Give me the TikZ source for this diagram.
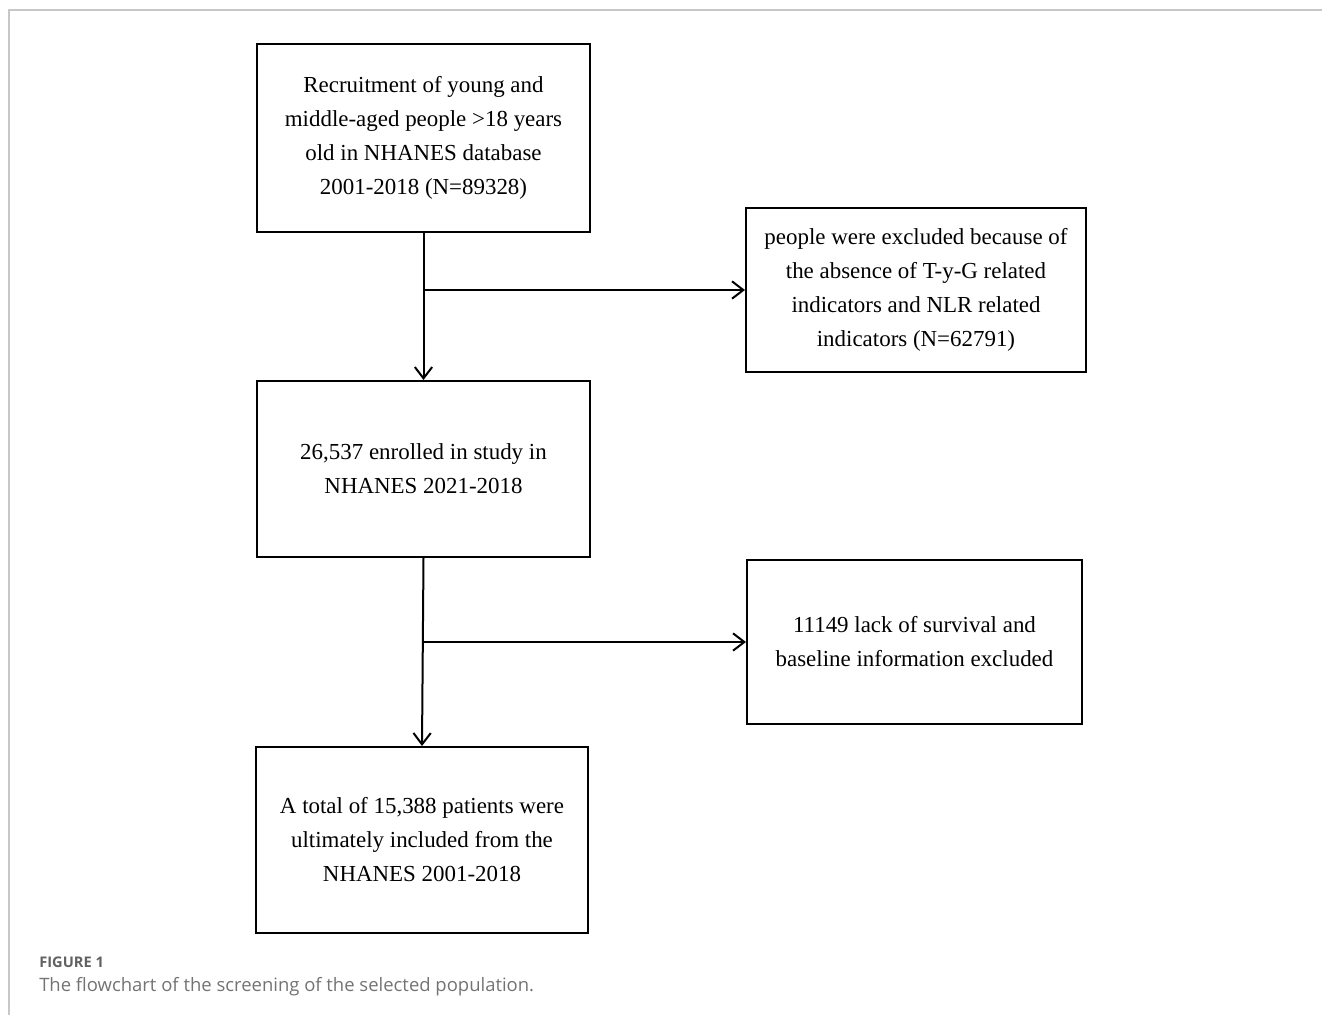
\documentclass[tikz,border=0pt]{standalone}
\usepackage{fontspec}
\setmainfont{Liberation Serif}
\newfontfamily\capfont{Open Sans}
\usetikzlibrary{arrows.meta}
\begin{document}
\begin{tikzpicture}[x=0.75pt,y=-0.75pt,
  flowbox/.style={draw=black,line width=1.5pt,inner sep=0pt,align=center,
    font=\fontsize{17.2pt}{25.5pt}\selectfont},
  flowarrow/.style={line width=1.5pt,-{Straight Barb[length=8.5pt,width=13pt,line width=1.5pt]}}]
\useasboundingbox (0,0) rectangle (1322,1015);
\draw[color=black!22,line width=1.5pt] (9,1015) -- (9,10) -- (1322,10);
\node[flowbox,minimum width=333*0.75pt,minimum height=188*0.75pt] (b1) at (423.5,138)
  {Recruitment of young and\\middle-aged people >18 years\\old in NHANES database\\2001-2018 (N=89328)};
\node[flowbox,minimum width=340*0.75pt,minimum height=164*0.75pt] (b2) at (916,290)
  {people were excluded because of\\the absence of T-y-G related\\indicators and NLR related\\indicators (N=62791)};
\node[flowbox,minimum width=333*0.75pt,minimum height=176*0.75pt] (b3) at (423.5,469)
  {26,537 enrolled in study in\\NHANES 2021-2018};
\node[flowbox,minimum width=335*0.75pt,minimum height=164*0.75pt] (b4) at (914.5,642)
  {11149 lack of survival and\\baseline information excluded};
\node[flowbox,minimum width=332*0.75pt,minimum height=186*0.75pt] (b5) at (422,840)
  {A total of 15,388 patients were\\ultimately included from the\\NHANES 2001-2018};
\draw[flowarrow] (b1.south) -- (b3.north);
\draw[flowarrow] (b1.south |- b2.west) -- (b2.west);
\draw[flowarrow] (b3.south) -- (b5.north);
\draw[flowarrow] (b3.south |- b4.west) -- (b4.west);
\node[anchor=base west,inner sep=0pt,text=black!62,font=\capfont\fontsize{11pt}{13pt}\selectfont\bfseries] (fig) at (39,967) {FIGURE 1};
\node[anchor=base west,inner sep=0pt,text=black!55,font=\capfont\fontsize{13.85pt}{16pt}\selectfont] (cap) at (39,991) {The flowchart of the screening of the selected population.};
\end{tikzpicture}
\end{document}
